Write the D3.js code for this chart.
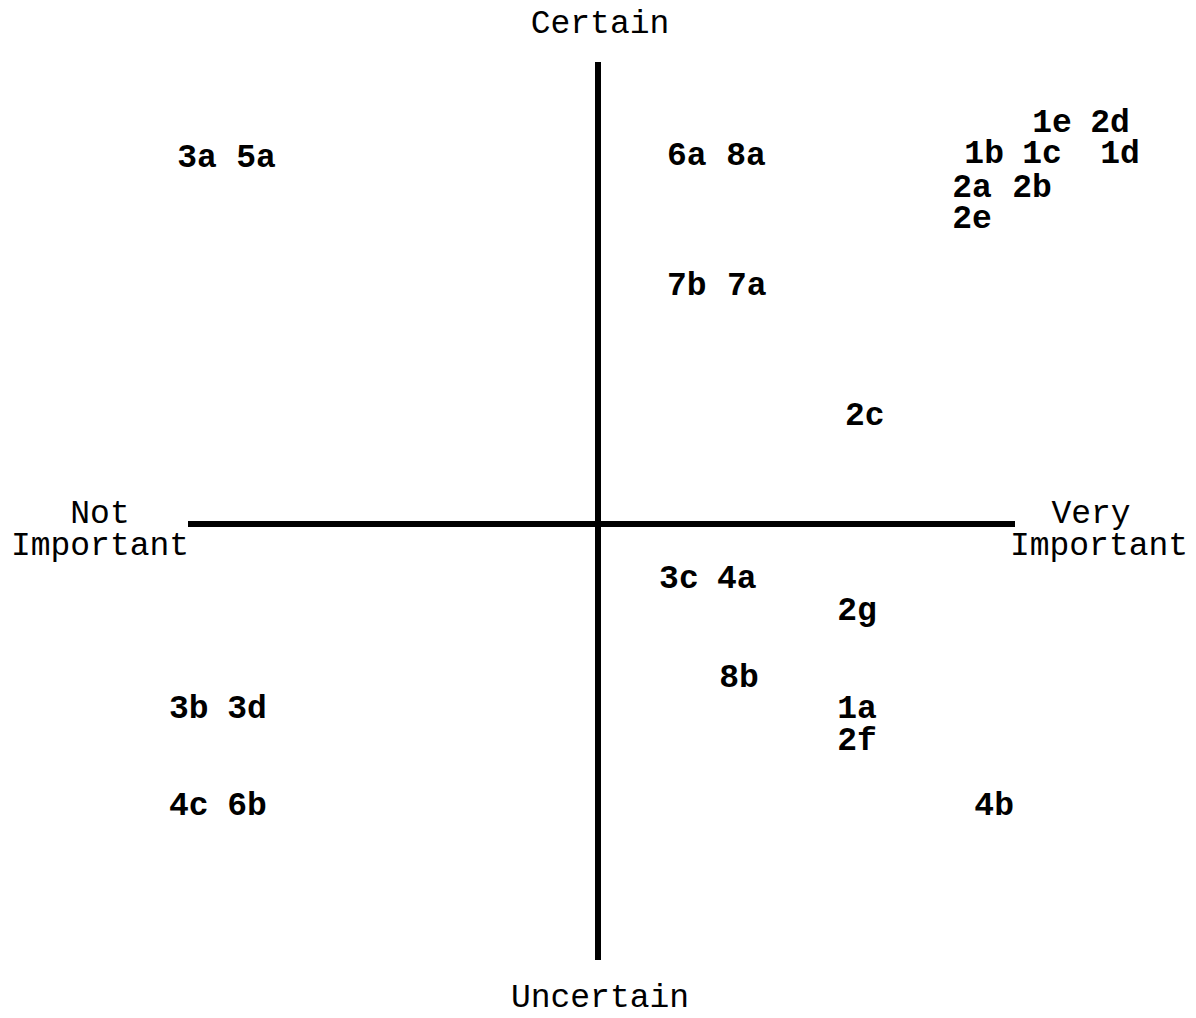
<!DOCTYPE html>
<html>
<head>
<meta charset="utf-8">
<script src="https://cdn.jsdelivr.net/npm/d3@7"></script>
<style>
  body { margin: 0; background: #fff; }
  svg { display: block; }
  text { font-family: "Courier New", "Liberation Mono", monospace; fill: #000; }
</style>
</head>
<body>
<svg id="chart"></svg>
<script>
// item codes and their position (importance, certainty)
var codes = ["3a", "5a", "6a", "8a", "7b", "7a", "1e", "2d", "1b", "1c", "1d", "2a", "2b", "2e",
             "2c", "3c", "4a", "2g", "8b", "1a", "2f", "3b", "3d", "4c", "6b", "4b"];
var importance = [-9.78, -8.34, 2.13, 3.55, 2.13, 3.57, 10.89, 12.28, 9.26, 10.65, 12.52, 8.97, 10.41, 8.97,
                  6.40, 1.94, 3.33, 6.21, 3.38, 6.21, 6.21, -9.98, -8.56, -9.98, -8.56, 9.50];
var certainty = [7.94, 7.94, 7.99, 7.99, 5.17, 5.17, 8.70, 8.70, 8.03, 8.03, 8.03, 7.29, 7.29, 6.62,
                 2.36, -1.24, -1.24, -1.97, -3.51, -4.22, -4.95, -4.22, -4.22, -6.44, -6.44, -6.44];

// axis end labels
var axisLabels = ["Certain", "Uncertain", "Not", "Important", "Very", "Important"];

var W = 1196, H = 1018;

const svg = d3.select("#chart")
  .attr("width", W)
  .attr("height", H);

var x = d3.scaleLinear().domain([-10, 0, 10]).range([188, 598, 1015]);
var y = d3.scaleLinear().domain([-10, 0, 10]).range([960, 524, 62]);

// the two axes
svg.append("line")
  .attr("x1", x(-10)).attr("x2", x(10))
  .attr("y1", y(0)).attr("y2", y(0))
  .attr("stroke", "#000").attr("stroke-width", 6);

svg.append("line")
  .attr("x1", x(0)).attr("x2", x(0))
  .attr("y1", y(10)).attr("y2", y(-10))
  .attr("stroke", "#000").attr("stroke-width", 6);

// axis end labels
svg.append("text").attr("x", x(0) + 2).attr("y", y(10) - 29)
  .attr("text-anchor", "middle").attr("font-size", 33).text(axisLabels[0]);
svg.append("text").attr("x", x(0) + 2).attr("y", y(-10) + 47)
  .attr("text-anchor", "middle").attr("font-size", 33).text(axisLabels[1]);
svg.append("text").attr("x", x(-10) - 88).attr("y", y(0) - 1)
  .attr("text-anchor", "middle").attr("font-size", 33).text(axisLabels[2]);
svg.append("text").attr("x", x(-10) - 88).attr("y", y(0) + 31)
  .attr("text-anchor", "middle").attr("font-size", 33).text(axisLabels[3]);
svg.append("text").attr("x", x(10) + 76).attr("y", y(0) - 1)
  .attr("text-anchor", "middle").attr("font-size", 33).text(axisLabels[4]);
svg.append("text").attr("x", x(10) + 84).attr("y", y(0) + 31)
  .attr("text-anchor", "middle").attr("font-size", 33).text(axisLabels[5]);

// item labels
var items = codes.map((c, i) => ({code: c, imp: importance[i], cert: certainty[i]}));

svg.append("g")
  .selectAll("text")
  .data(items)
  .join("text")
    .attr("x", d => x(d.imp))
    .attr("y", d => y(d.cert) + 10)
    .attr("text-anchor", "middle")
    .attr("font-size", 33)
    .attr("font-weight", "bold")
    .text(d => d.code);
</script>
</body>
</html>
